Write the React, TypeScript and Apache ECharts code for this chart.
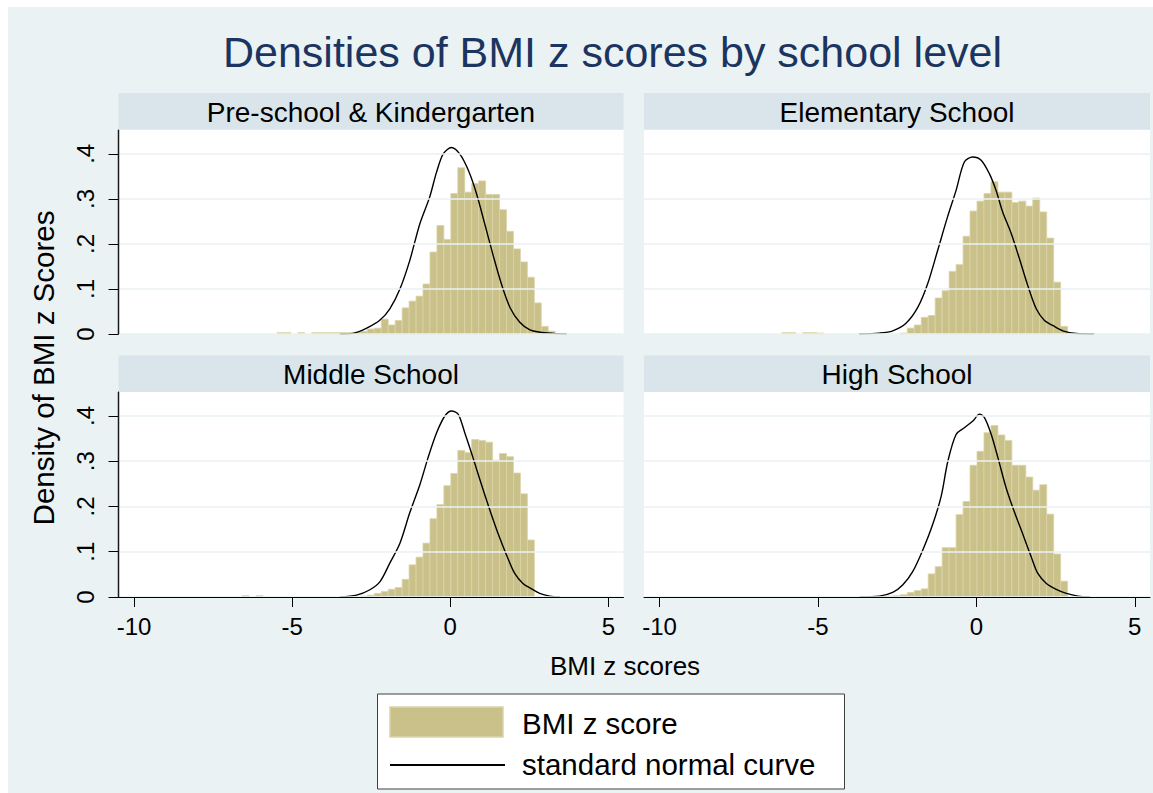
import React, { useEffect, useRef } from "react";
import * as echarts from "echarts";

// ---------- data ----------
const chartTitle = "Densities of BMI z scores by school level";
const panelNames = ["Pre-school & Kindergarten", "Elementary School", "Middle School", "High School"];
const xTickValues = [-10, -5, 0, 5];
const yTickValues = [0, 0.1, 0.2, 0.3, 0.4];
const xAxisTitle = "BMI z scores";
const yAxisTitle = "Density of BMI z Scores";
const legendLabels = ["BMI z score", "standard normal curve"];

// histogram bins: left edge of bin k = binOrigin + k * binWidth
const binOrigin = -3.06;
const binWidth = 0.22;

const preFirstBin = -11;
const preHeights = [
  0.003, 0.003, 0, 0.003, 0, 0.003, 0.003, 0.003, 0.003, 0.003, 0.003,
  0.004, 0.006, 0.011, 0.013, 0.033, 0.02, 0.03, 0.058, 0.073, 0.084, 0.111, 0.182, 0.241, 0.21, 0.312,
  0.369, 0.315, 0.334, 0.34, 0.31, 0.31, 0.276, 0.228, 0.189, 0.16, 0.126, 0.069, 0.017, 0.006,
];

const elemFirstBin = -14;
const elemHeights = [
  0.003, 0.003, 0, 0.003, 0.003, 0.002, 0, 0, 0, 0, 0, 0, 0, 0, 0, 0, 0,
  0.002, 0.013, 0.02, 0.037, 0.041, 0.08, 0.096, 0.139, 0.154, 0.217, 0.273, 0.295, 0.312, 0.338,
  0.315, 0.315, 0.292, 0.295, 0.284, 0.302, 0.271, 0.213, 0.115, 0.017,
];

const midFirstBin = -16;
const midHeights = [
  0.003, 0, 0.003, 0, 0, 0, 0, 0, 0, 0, 0, 0, 0, 0, 0, 0, 0,
  0.002, 0.004, 0.008, 0.012, 0.017, 0.021, 0.039, 0.071, 0.088, 0.119, 0.173, 0.204, 0.246, 0.273,
  0.324, 0.319, 0.348, 0.346, 0.342, 0.302, 0.317, 0.31, 0.274, 0.228, 0.126,
];

const highFirstBin = 0;
const highHeights = [
  0.001, 0.002, 0.003, 0.005, 0.01, 0.014, 0.018, 0.051, 0.067, 0.109, 0.109, 0.182, 0.211, 0.291,
  0.322, 0.363, 0.379, 0.358, 0.346, 0.291, 0.291, 0.265, 0.236, 0.248, 0.183, 0.095, 0.035,
];

// density curves [x, y]
const preCurve = [
  [-3.49, 0], [-3.07, 0.0015], [-2.64, 0.013], [-2.22, 0.031], [-1.91, 0.056], [-1.59, 0.1],
  [-1.28, 0.163], [-0.96, 0.245], [-0.65, 0.304], [-0.43, 0.36], [-0.22, 0.4], [0.04, 0.414],
  [0.3, 0.4], [0.57, 0.364], [0.83, 0.312], [1.09, 0.245], [1.36, 0.174], [1.62, 0.111],
  [1.89, 0.059], [2.2, 0.026], [2.52, 0.009], [2.84, 0.004], [3.26, 0.0015], [3.68, 0],
];
const elemCurve = [
  [-3.7, 0], [-3.06, 0.002], [-2.64, 0.007], [-2.22, 0.024], [-1.85, 0.059], [-1.54, 0.111],
  [-1.22, 0.186], [-0.91, 0.26], [-0.64, 0.319], [-0.38, 0.382], [-0.12, 0.393], [0.15, 0.386],
  [0.41, 0.356], [0.62, 0.319], [0.83, 0.271], [1.1, 0.223], [1.36, 0.167], [1.62, 0.108],
  [1.89, 0.056], [2.15, 0.03], [2.41, 0.019], [2.73, 0.007], [3.15, 0.001], [3.72, 0],
];
const midCurve = [
  [-3.49, 0], [-2.96, 0.004], [-2.54, 0.016], [-2.22, 0.034], [-1.91, 0.075], [-1.59, 0.119],
  [-1.28, 0.186], [-0.96, 0.248], [-0.7, 0.308], [-0.43, 0.363], [-0.17, 0.4], [0.04, 0.411],
  [0.25, 0.404], [0.46, 0.363], [0.72, 0.308], [0.99, 0.248], [1.25, 0.193], [1.51, 0.141],
  [1.78, 0.093], [2.04, 0.052], [2.3, 0.03], [2.57, 0.018], [2.83, 0.008], [3.15, 0.002], [3.47, 0],
];
const highCurve = [
  [-3.69, 0], [-3.06, 0.002], [-2.64, 0.01], [-2.32, 0.027], [-2.01, 0.056], [-1.69, 0.104],
  [-1.38, 0.16], [-1.11, 0.223], [-0.9, 0.3], [-0.64, 0.359], [-0.38, 0.374], [-0.11, 0.389],
  [0.1, 0.404], [0.26, 0.396], [0.47, 0.359], [0.68, 0.308], [0.94, 0.241], [1.21, 0.186],
  [1.47, 0.138], [1.73, 0.089], [1.94, 0.052], [2.21, 0.03], [2.52, 0.017], [2.84, 0.008],
  [3.21, 0.002], [3.58, 0],
];

const panelBins = [
  { first: preFirstBin, heights: preHeights },
  { first: elemFirstBin, heights: elemHeights },
  { first: midFirstBin, heights: midHeights },
  { first: highFirstBin, heights: highHeights },
];
const panelCurves = [preCurve, elemCurve, midCurve, highCurve];

// ---------- styles ----------
const FONT = "'Liberation Sans', Arial, sans-serif";
const BG = "#EAF2F3";
const STRIP = "#D9E5EB";
const BAR_FILL = "#C9C189";
const BAR_EDGE = "#DAD4A6";
const TITLE_COLOR = "#1C3560";
const OX = 8;
const OY = 7;
const X = (v: number) => v - OX;
const Y = (v: number) => v - OY;

const gridBoxes = [
  { left: 118.5, top: 130, width: 505, height: 204 },
  { left: 644, top: 130, width: 506, height: 204 },
  { left: 118.5, top: 392, width: 505, height: 205 },
  { left: 644, top: 392, width: 506, height: 205 },
];
const stripBoxes = [
  { left: 118.5, top: 93, width: 505, height: 36.5 },
  { left: 644, top: 93, width: 506, height: 36.5 },
  { left: 118.5, top: 355.5, width: 505, height: 36.5 },
  { left: 644, top: 355.5, width: 506, height: 36.5 },
];

function buildOption() {
  const grid = gridBoxes.map((g) => ({
    left: X(g.left),
    top: Y(g.top),
    width: g.width,
    height: g.height,
    show: true,
    backgroundColor: "#FFFFFF",
    borderWidth: 0,
    containLabel: false,
  }));

  const xAxis = gridBoxes.map((_, i) => {
    const bottom = i >= 2;
    return {
      type: "value",
      gridIndex: i,
      position: "bottom",
      min: -10.49,
      max: 5.48,
      z: 5,
      splitLine: { show: false },
      axisLine: { show: bottom, onZero: false, lineStyle: { color: "#000", width: 1 } },
      axisTick: {
        show: bottom,
        customValues: xTickValues,
        length: 10,
        lineStyle: { color: "#000", width: 1 },
      },
      axisLabel: {
        show: bottom,
        customValues: xTickValues,
        fontSize: 24,
        fontFamily: FONT,
        color: "#000",
        margin: 17,
      },
    };
  });

  const yAxis = gridBoxes.map((_, i) => {
    const left = i % 2 === 0;
    return {
      type: "value",
      gridIndex: i,
      position: "left",
      min: 0,
      max: 0.453,
      interval: 0.1,
      z: 5,
      axisLine: { show: left, onZero: false, lineStyle: { color: "#000", width: 1 } },
      axisTick: {
        show: left,
        customValues: yTickValues,
        length: 10,
        lineStyle: { color: "#000", width: 1 },
      },
      axisLabel: {
        show: left,
        customValues: yTickValues,
        rotate: 90,
        fontSize: 24,
        fontFamily: FONT,
        color: "#000",
        margin: 21,
        formatter: (v: number) => (v === 0 ? "0" : "." + Math.round(v * 10)),
      },
      splitLine: { show: true, lineStyle: { color: BG, width: 1.5 } },
    };
  });

  const series: any[] = [];
  panelBins.forEach((p, i) => {
    const data = p.heights
      .map((h, j) => {
        const k = p.first + j;
        const x0 = binOrigin + k * binWidth;
        return [x0, x0 + binWidth, h];
      })
      .filter((d) => d[2] > 0);
    series.push({
      type: "custom",
      name: legendLabels[0],
      xAxisIndex: i,
      yAxisIndex: i,
      data,
      encode: { x: [0, 1], y: 2 },
      z: 2,
      renderItem: (_params: any, api: any) => {
        const a = api.coord([api.value(0), api.value(2)]);
        const b = api.coord([api.value(1), 0]);
        return {
          type: "rect",
          shape: { x: a[0], y: a[1], width: b[0] - a[0], height: b[1] - a[1] },
          style: { fill: BAR_FILL, stroke: BAR_EDGE, lineWidth: 0.8 },
        };
      },
    });
    series.push({
      type: "line",
      name: legendLabels[1],
      xAxisIndex: i,
      yAxisIndex: i,
      data: panelCurves[i],
      showSymbol: false,
      smooth: 0.3,
      z: 3,
      lineStyle: { color: "#000", width: 1.4 },
    });
  });

  const graphic: any[] = [];
  stripBoxes.forEach((s, i) => {
    graphic.push({
      type: "rect",
      shape: { x: X(s.left), y: Y(s.top), width: s.width, height: s.height },
      style: { fill: STRIP },
    });
    graphic.push({
      type: "text",
      x: X(s.left + s.width / 2),
      y: Y(s.top + s.height / 2 + 1),
      style: {
        text: panelNames[i],
        fontSize: 28,
        fontFamily: FONT,
        fill: "#000",
        align: "center",
        verticalAlign: "middle",
      },
    });
  });
  // left-hand y axis lines of the two left panels
  [gridBoxes[0], gridBoxes[2]].forEach((g) => {
    graphic.push({
      type: "line",
      z: 100,
      shape: { x1: X(g.left), y1: Y(g.top), x2: X(g.left), y2: Y(g.top + g.height) },
      style: { stroke: "#1A1A1A", lineWidth: 1.5 },
    });
  });
  graphic.push({
    type: "text",
    x: X(612.5),
    y: Y(52),
    style: {
      text: chartTitle,
      fontSize: 43,
      fontFamily: FONT,
      fill: TITLE_COLOR,
      align: "center",
      verticalAlign: "middle",
    },
  });
  graphic.push({
    type: "text",
    x: X(625),
    y: Y(666),
    style: {
      text: xAxisTitle,
      fontSize: 26,
      fontFamily: FONT,
      fill: "#000",
      align: "center",
      verticalAlign: "middle",
    },
  });
  graphic.push({
    type: "text",
    x: X(43),
    y: Y(368),
    rotation: Math.PI / 2,
    style: {
      text: yAxisTitle,
      fontSize: 29.5,
      fontFamily: FONT,
      fill: "#000",
      align: "center",
      verticalAlign: "middle",
    },
  });
  // legend
  graphic.push({
    type: "rect",
    shape: { x: X(377.5), y: Y(694), width: 467, height: 95 },
    style: { fill: "#FFFFFF", stroke: "#404040", lineWidth: 1 },
  });
  graphic.push({
    type: "rect",
    shape: { x: X(390), y: Y(707), width: 113, height: 30 },
    style: { fill: BAR_FILL, stroke: BAR_EDGE, lineWidth: 1.5 },
  });
  graphic.push({
    type: "line",
    shape: { x1: X(390), y1: Y(765), x2: X(505), y2: Y(765) },
    style: { stroke: "#000", lineWidth: 2 },
  });
  graphic.push({
    type: "text",
    x: X(522),
    y: Y(723),
    style: { text: legendLabels[0], fontSize: 29.5, fontFamily: FONT, fill: "#000", verticalAlign: "middle" },
  });
  graphic.push({
    type: "text",
    x: X(522),
    y: Y(764),
    style: { text: legendLabels[1], fontSize: 29.5, fontFamily: FONT, fill: "#000", verticalAlign: "middle" },
  });

  return {
    animation: false,
    backgroundColor: BG,
    grid,
    xAxis,
    yAxis,
    series,
    graphic: { elements: graphic },
  };
}

export default function App() {
  const ref = useRef<HTMLDivElement>(null);
  useEffect(() => {
    if (!ref.current) return;
    const chart = echarts.init(ref.current, undefined, { renderer: "svg" });
    chart.setOption(buildOption() as any);
    return () => chart.dispose();
  }, []);
  return (
    <div style={{ position: "fixed", left: 0, top: 0, width: 1153, height: 793, background: "#FFFFFF" }}>
      <div
        ref={ref}
        style={{ position: "absolute", left: OX, top: OY, width: 1153 - OX, height: 793 - OY }}
      />
    </div>
  );
}
